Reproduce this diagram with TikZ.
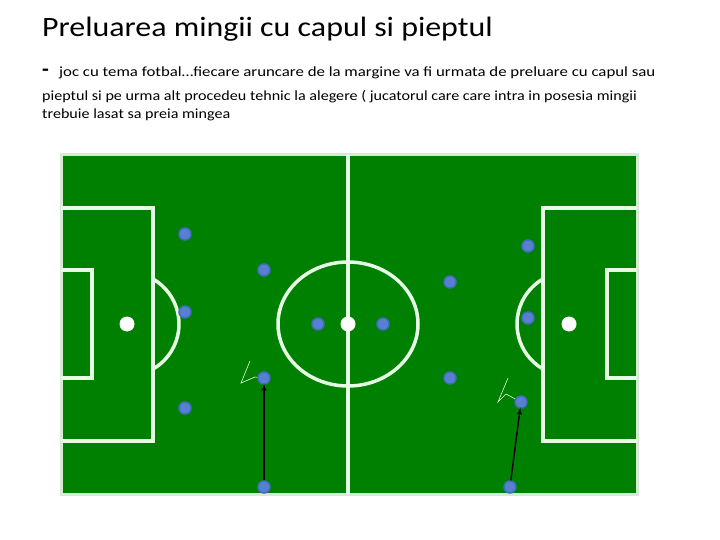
\documentclass[tikz,border=0pt]{standalone}
\usepackage{fontspec}
\setmainfont{Carlito}
\usetikzlibrary{arrows}
\definecolor{pitch}{RGB}{0,128,0}
\definecolor{chalk}{RGB}{230,252,228}
\definecolor{touch}{RGB}{214,234,212}
\definecolor{player}{RGB}{88,128,208}
\definecolor{playerring}{RGB}{66,108,190}

\begin{document}
\begin{tikzpicture}[x=1pt,y=-1pt,>=latex',
    line/.style={draw=chalk,line width=3.5pt},
    spot/.style={circle,fill=white,inner sep=0pt,minimum size=15pt},
    pl/.style={circle,fill=player,draw=playerring,line width=1.5pt,minimum size=12pt,inner sep=0pt},
    pass/.style={->,line width=1.4pt,black,shorten >=-1pt},
    ball/.style={draw=chalk,line width=0.6pt},
    txt/.style={anchor=base west,inner sep=0pt,font=\fontsize{14}{16}\selectfont\addfontfeature{FakeStretch=1.15}}]
  \useasboundingbox (0,0) rectangle (720,540);

  % texts
  \node[anchor=base west,inner sep=0pt,font=\fontsize{28}{30}\selectfont\addfontfeature{FakeStretch=1.14}] (title) at (42,37) {Preluarea mingii cu capul si pieptul};
  \node[anchor=base west,inner sep=0pt,font=\fontsize{22}{24}\selectfont\bfseries] (dash) at (42,77) {-};
  \node[txt,font=\fontsize{14}{16}\selectfont\addfontfeature{FakeStretch=1.2}] (line1) at (59,77) {joc cu tema fotbal…fiecare aruncare de la margine va fi urmata de preluare cu capul sau};
  \node[txt] (line2) at (42,101) {pieptul si pe urma alt procedeu tehnic la alegere ( jucatorul care care intra in posesia mingii};
  \node[txt] (line3) at (42,119) {trebuie lasat sa preia mingea};

  % pitch
  \draw[fill=pitch,draw=touch,line width=3pt] (61,155) rectangle (637,494);
  \draw[line] (348,155) -- (348,494);
  \draw[line] (348,324) ellipse [x radius=70,y radius=62];
  \draw[line] (61,208) -- (153,208) -- (153,441) -- (61,441);
  \draw[line] (61,270) -- (92,270) -- (92,378) -- (61,378);
  \draw[line] (127,324) ++(-59:52) arc[start angle=-59,end angle=59,radius=52];
  \draw[line] (637,208) -- (543,208) -- (543,441) -- (637,441);
  \draw[line] (637,270) -- (607,270) -- (607,378) -- (637,378);
  \draw[line] (569,324) ++(121:52) arc[start angle=121,end angle=239,radius=52];
  \node[spot] (cspot) at (348,324) {};
  \node[spot] (lspot) at (127,324) {};
  \node[spot] (rspot) at (569,324) {};

  % players
  \node[pl] (a1) at (185,234) {};
  \node[pl] (a2) at (264,270) {};
  \node[pl] (a3) at (185,312) {};
  \node[pl] (a4) at (318,324) {};
  \node[pl] (a5) at (264,378) {};
  \node[pl] (a6) at (185,408) {};
  \node[pl] (a7) at (264,487) {};
  \node[pl] (b1) at (383,324) {};
  \node[pl] (b2) at (450,282) {};
  \node[pl] (b3) at (528,246) {};
  \node[pl] (b4) at (528,318) {};
  \node[pl] (b5) at (450,378) {};
  \node[pl] (b6) at (521,402) {};
  \node[pl] (b7) at (510,487) {};

  % throw-ins
  \draw[pass] (a7) -- (a5);
  \draw[pass] (b7) -- (b6);
  \draw[ball] (250,361) -- (241,383) -- (255,377) -- (a5);
  \draw[ball] (508,378) -- (498,402) -- (506,394) -- (b6);
\end{tikzpicture}
\end{document}
